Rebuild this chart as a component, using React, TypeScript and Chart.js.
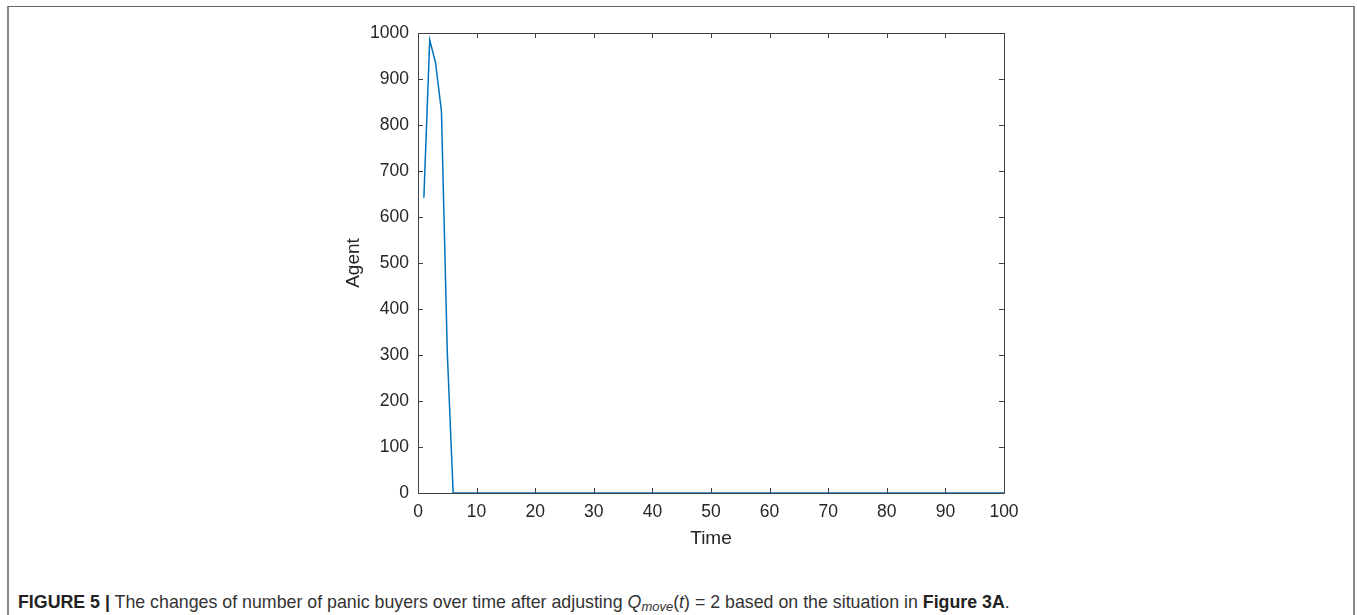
import React, { useEffect, useRef } from "react";
import { Chart, registerables } from "chart.js";

Chart.register(...registerables);

const timePoints = [1, 2, 3, 4, 5, 6, 100];
const agentValues = [642, 985, 935, 830, 305, 0, 0];
const xTicks = [0, 10, 20, 30, 40, 50, 60, 70, 80, 90, 100];
const yTicks = [0, 100, 200, 300, 400, 500, 600, 700, 800, 900, 1000];

const AXIS_COLOR = "#262626";
const FONT = "'Liberation Sans', Arial, Helvetica, sans-serif";

const boxPlugin = {
  id: "matlabBox",
  afterDraw(chart: any) {
    const { ctx, chartArea } = chart;
    const { left, right, top, bottom } = chartArea;
    const xs = chart.scales.x;
    const ys = chart.scales.y;
    const tl = 5;
    ctx.save();
    ctx.strokeStyle = "#404040";
    ctx.lineWidth = 1;
    ctx.beginPath();
    ctx.rect(Math.round(left) + 0.5, Math.round(top) + 0.5, Math.round(right - left), Math.round(bottom - top));
    ctx.stroke();
    ctx.beginPath();
    for (const v of xTicks) {
      const px = Math.round(xs.getPixelForValue(v)) + 0.5;
      ctx.moveTo(px, bottom);
      ctx.lineTo(px, bottom - tl);
      ctx.moveTo(px, top);
      ctx.lineTo(px, top + tl);
    }
    for (const v of yTicks) {
      const py = Math.round(ys.getPixelForValue(v)) + 0.5;
      ctx.moveTo(left, py);
      ctx.lineTo(left + tl, py);
      ctx.moveTo(right, py);
      ctx.lineTo(right - tl, py);
    }
    ctx.stroke();
    ctx.restore();
  },
};

function PanicChart() {
  const ref = useRef<HTMLCanvasElement | null>(null);
  useEffect(() => {
    if (!ref.current) return;
    const chart = new Chart(ref.current, {
      type: "line",
      data: {
        datasets: [
          {
            data: timePoints.map((t, i) => ({ x: t, y: agentValues[i] })),
            borderColor: "#0072BD",
            borderWidth: 1.5,
            pointRadius: 0,
            tension: 0,
            fill: false,
          },
        ],
      },
      options: {
        animation: false,
        responsive: false,
        maintainAspectRatio: false,
        layout: { padding: { left: 342, right: 353, top: 33, bottom: 9.6 } },
        plugins: { legend: { display: false }, tooltip: { enabled: false } },
        scales: {
          x: {
            type: "linear",
            min: 0,
            max: 100,
            afterBuildTicks: (s: any) => {
              s.ticks = xTicks.map((v) => ({ value: v }));
            },
            afterFit: (s: any) => {
              s.height = 57.4;
            },
            grid: { display: false, drawTicks: false },
            border: { display: false },
            ticks: {
              color: AXIS_COLOR,
              font: { family: FONT, size: 17.5 },
              padding: 9,
              maxRotation: 0,
              callback: (v: any) => String(v),
            },
            title: {
              display: true,
              text: "Time",
              color: AXIS_COLOR,
              font: { family: FONT, size: 19 },
              padding: 0,
            },
          },
          y: {
            type: "linear",
            min: 0,
            max: 1000,
            afterBuildTicks: (s: any) => {
              s.ticks = yTicks.map((v) => ({ value: v }));
            },
            afterFit: (s: any) => {
              s.width = 76;
            },
            grid: { display: false, drawTicks: false },
            border: { display: false },
            ticks: {
              color: AXIS_COLOR,
              font: { family: FONT, size: 17.5 },
              padding: 9,
              callback: (v: any) => String(v),
            },
            title: {
              display: true,
              text: "Agent",
              color: AXIS_COLOR,
              font: { family: FONT, size: 19 },
              padding: 0,
            },
          },
        },
      },
      plugins: [boxPlugin],
    });
    return () => chart.destroy();
  }, []);
  return (
    <canvas
      ref={ref}
      width={1357}
      height={560}
      style={{ position: "absolute", left: 0, top: 0, width: 1357, height: 560 }}
    />
  );
}

export default function App() {
  return (
    <div style={{ position: "absolute", left: 0, top: 0, width: 1357, height: 615, overflow: "hidden", background: "#fff" }}>
      <div
        style={{
          position: "absolute",
          left: 7,
          top: 6,
          width: 1348,
          height: 609,
          boxSizing: "border-box",
          borderTop: "1.5px solid #666",
          borderLeft: "2px solid #888",
          borderRight: "2px solid #888",
        }}
      />
      <PanicChart />
      <div
        style={{
          position: "absolute",
          left: 18,
          top: 591,
          whiteSpace: "nowrap",
          fontFamily: FONT,
          fontSize: 17.8,
          lineHeight: "22px",
          color: "#333",
        }}
      >
        <b style={{ color: "#222" }}>FIGURE 5 |</b> The changes of number of panic buyers over time after adjusting{" "}
        <i>Q</i>
        <sub style={{ fontSize: 13, fontStyle: "italic", verticalAlign: "-3px", lineHeight: 0 }}>move</sub>(<i>t</i>) = 2 based on the
        situation in <b style={{ color: "#222" }}>Figure 3A</b>.
      </div>
    </div>
  );
}
